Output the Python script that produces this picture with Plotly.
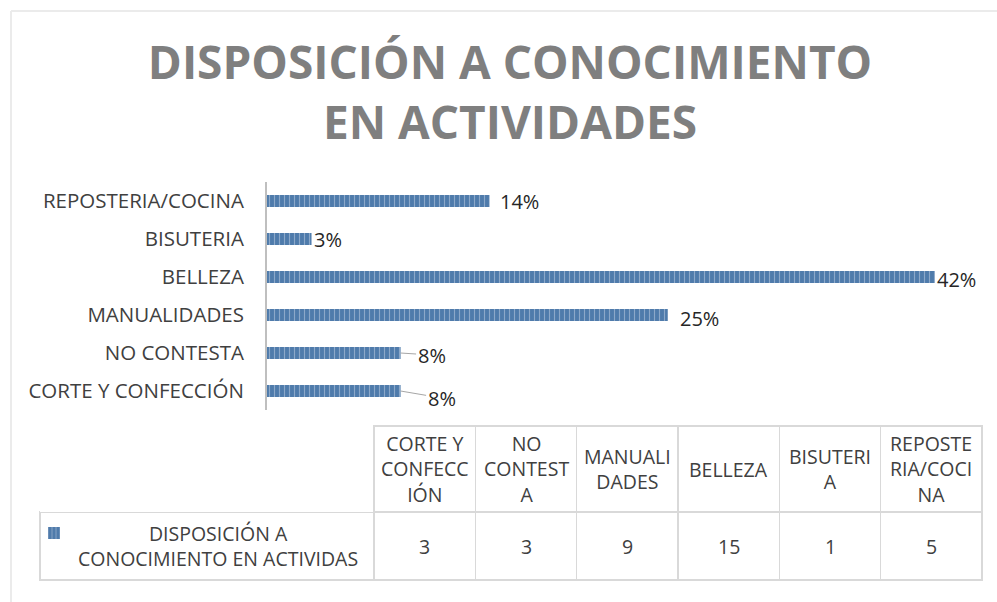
import plotly.graph_objects as go

# ---- data ----
categories = ["CORTE Y CONFECCIÓN", "NO CONTESTA", "MANUALIDADES", "BELLEZA", "BISUTERIA", "REPOSTERIA/COCINA"]
counts = [3, 3, 9, 15, 1, 5]
header_labels = ["CORTE Y<br>CONFECC<br>IÓN", "NO<br>CONTEST<br>A", "MANUALI<br>DADES", "BELLEZA",
                 "BISUTERI<br>A", "REPOSTE<br>RIA/COCI<br>NA"]
series_name = "DISPOSICIÓN A<br>CONOCIMIENTO EN ACTIVIDAS"
title_text = "DISPOSICIÓN A CONOCIMIENTO<br>EN ACTIVIDADES"

total = sum(counts)
pct = [c / total * 100 for c in counts]
pct_labels = [f"{round(p)}%" for p in pct]

# label placement (style only)
label_style = [  # xshift, yshift, leader(ax, ay) or None
    (0, 0, (41, 7)),
    (0, 0, (31, 2)),
    (10, -3, None),
    (0, -2, None),
    (0, 0, None),
    (8, 0, None),
]

W, H = 997, 602
BAR_BLUE = "#4f7bab"
GRID = "#d9d9d9"
TXT = "#404040"
FONT = "Open Sans"

fig = go.Figure()

fig.add_trace(go.Bar(
    x=pct, y=categories, orientation="h",
    width=0.32,
    name=" ",
    marker=dict(color=BAR_BLUE, line=dict(width=0),
                pattern=dict(shape="|", fgcolor="#c9d6e8", size=5, solidity=0.22)),
    showlegend=True,
    hoverinfo="x+y",
))

# percentage labels
for cat, p, lab, (xs, ys, lead) in zip(categories, pct, pct_labels, label_style):
    if lead is None:
        fig.add_annotation(x=p, y=cat, xref="x", yref="y", text=lab, showarrow=False,
                           xanchor="left", yanchor="middle", xshift=xs, yshift=ys,
                           font=dict(family=FONT, size=20, color="#262626"))
    else:
        fig.add_annotation(x=p, y=cat, xref="x", yref="y", text=lab, showarrow=True,
                           arrowhead=0, arrowwidth=1, arrowcolor="#a6a6a6",
                           ax=lead[0], ay=lead[1], standoff=0,
                           font=dict(family=FONT, size=20, color="#262626"))

# data table (grid drawn by the table trace, text centred like the original)
ncol = len(categories)
T_X0, T_X1 = 40, 982
T_TOP, HDR_H, ROW_H = 426, 86, 68
col_w = [334] + [(T_X1 - T_X0 - 334) / ncol] * ncol

fig.add_trace(go.Table(
    domain=dict(x=[T_X0 / W, T_X1 / W], y=[1 - (T_TOP + HDR_H + ROW_H + 2) / H, 1 - T_TOP / H]),
    columnwidth=col_w,
    header=dict(
        values=[""] * (ncol + 1),
        height=HDR_H,
        fill=dict(color="white"),
        line=dict(color=["rgba(0,0,0,0)"] + [GRID] * ncol, width=1.5),
    ),
    cells=dict(
        values=[[""]] * (ncol + 1),
        height=ROW_H,
        fill=dict(color="white"),
        line=dict(color=GRID, width=1.5),
    ),
    hoverinfo="skip",
))

edges = [T_X0]
for w in col_w:
    edges.append(edges[-1] + w)
centers = [(edges[i] + edges[i + 1]) / 2 for i in range(len(col_w))]
hdr_y = 1 - (T_TOP + HDR_H / 2) / H
row_y = 1 - (T_TOP + HDR_H + ROW_H / 2) / H
tfont = dict(family=FONT, size=19.5, color=TXT)

for cx, lab in zip(centers[1:], header_labels):
    fig.add_annotation(x=cx / W, y=hdr_y, xref="paper", yref="paper", text=lab, showarrow=False,
                       xanchor="center", yanchor="middle", align="center", font=tfont)
for cx, v in zip(centers[1:], counts):
    fig.add_annotation(x=cx / W, y=row_y, xref="paper", yref="paper", text=str(v), showarrow=False,
                       xanchor="center", yanchor="middle", align="center", font=tfont)
fig.add_annotation(x=centers[0] / W, y=row_y, xref="paper", yref="paper", text=series_name,
                   showarrow=False, xanchor="center", yanchor="middle", align="center",
                   xshift=11, font=tfont)

# chart frame (soft border at top-left)
fig.add_shape(type="line", xref="paper", yref="paper", x0=11 / W, x1=1, y0=1 - 11 / H, y1=1 - 11 / H,
              line=dict(color="#ebebeb", width=2))
fig.add_shape(type="line", xref="paper", yref="paper", x0=11 / W, x1=11 / W, y0=0, y1=1 - 11 / H,
              line=dict(color="#ebebeb", width=2))

fig.update_layout(
    width=W, height=H,
    margin=dict(l=0, r=0, t=0, b=0),
    paper_bgcolor="white", plot_bgcolor="white",
    title=dict(text=title_text, x=510 / W, xanchor="center", y=1 - 79 / H, yanchor="middle",
               font=dict(family=FONT, size=46, color="#7f7f7f", weight="bold")),
    xaxis=dict(domain=[267 / W, 960 / W], range=[0, 43.23], visible=False, fixedrange=True),
    yaxis=dict(domain=[1 - 410 / H, 1 - 182 / H], range=[-0.5, 5.5],
               categoryorder="array", categoryarray=categories,
               showline=True, linecolor="#bfbfbf", linewidth=2, ticks="", showgrid=False,
               tickfont=dict(family=FONT, size=20.5, color=TXT), ticklabelstandoff=17,
               fixedrange=True),
    legend=dict(x=34 / W, y=1 - 533 / H, xanchor="left", yanchor="middle",
                bgcolor="rgba(0,0,0,0)", font=dict(size=12)),
    showlegend=True,
)

fig.write_html("out.html", config={"displayModeBar": False},
               post_script="document.body.style.margin='0px';")
